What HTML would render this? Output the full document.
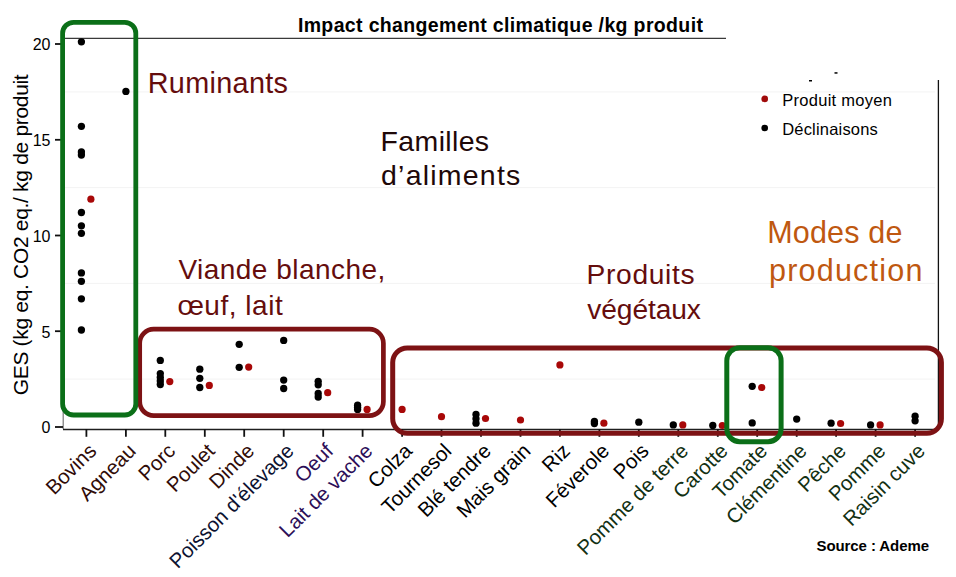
<!DOCTYPE html>
<html><head><meta charset="utf-8"><style>
html,body{margin:0;padding:0;background:#fff;width:956px;height:577px;overflow:hidden}
svg{display:block;font-family:"Liberation Sans",sans-serif}
</style></head><body>
<svg width="956" height="577" viewBox="0 0 956 577">
<rect x="0" y="0" width="956" height="577" fill="#fff"/>
<line x1="64" x2="935" y1="379.1" y2="379.1" stroke="#f3f3f3" stroke-width="1"/>
<line x1="64" x2="935" y1="283.4" y2="283.4" stroke="#f3f3f3" stroke-width="1"/>
<line x1="64" x2="935" y1="187.6" y2="187.6" stroke="#f3f3f3" stroke-width="1"/>
<line x1="64" x2="935" y1="91.9" y2="91.9" stroke="#f3f3f3" stroke-width="1"/>
<line x1="63" x2="726" y1="38.4" y2="38.4" stroke="#3a3a3a" stroke-width="1.2"/>
<line x1="938.4" x2="938.4" y1="80" y2="429" stroke="#111" stroke-width="1.3"/>
<line x1="63.2" x2="63.2" y1="38" y2="429" stroke="#777" stroke-width="1.2"/>
<line x1="63" x2="936" y1="429.5" y2="429.5" stroke="#1e1e1e" stroke-width="1.6"/>
<line x1="55" x2="63" y1="427.0" y2="427.0" stroke="#111" stroke-width="1.8"/>
<text x="50.5" y="433.3" text-anchor="end" font-size="16" fill="#000">0</text>
<line x1="55" x2="63" y1="331.2" y2="331.2" stroke="#111" stroke-width="1.8"/>
<text x="50.5" y="337.6" text-anchor="end" font-size="16" fill="#000">5</text>
<line x1="55" x2="63" y1="235.5" y2="235.5" stroke="#111" stroke-width="1.8"/>
<text x="50.5" y="241.8" text-anchor="end" font-size="16" fill="#000">10</text>
<line x1="55" x2="63" y1="139.8" y2="139.8" stroke="#111" stroke-width="1.8"/>
<text x="50.5" y="146.1" text-anchor="end" font-size="16" fill="#000">15</text>
<line x1="55" x2="63" y1="44.0" y2="44.0" stroke="#111" stroke-width="1.8"/>
<text x="50.5" y="50.3" text-anchor="end" font-size="16" fill="#000">20</text>
<line x1="86.4" x2="86.4" y1="429" y2="436.8" stroke="#111" stroke-width="1.8"/>
<line x1="125.9" x2="125.9" y1="429" y2="436.8" stroke="#111" stroke-width="1.8"/>
<line x1="165.3" x2="165.3" y1="429" y2="436.8" stroke="#111" stroke-width="1.8"/>
<line x1="204.8" x2="204.8" y1="429" y2="436.8" stroke="#111" stroke-width="1.8"/>
<line x1="244.2" x2="244.2" y1="429" y2="436.8" stroke="#111" stroke-width="1.8"/>
<line x1="283.7" x2="283.7" y1="429" y2="436.8" stroke="#111" stroke-width="1.8"/>
<line x1="323.2" x2="323.2" y1="429" y2="436.8" stroke="#111" stroke-width="1.8"/>
<line x1="362.6" x2="362.6" y1="429" y2="436.8" stroke="#111" stroke-width="1.8"/>
<line x1="402.1" x2="402.1" y1="429" y2="436.8" stroke="#111" stroke-width="1.8"/>
<line x1="441.5" x2="441.5" y1="429" y2="436.8" stroke="#111" stroke-width="1.8"/>
<line x1="481.0" x2="481.0" y1="429" y2="436.8" stroke="#111" stroke-width="1.8"/>
<line x1="520.5" x2="520.5" y1="429" y2="436.8" stroke="#111" stroke-width="1.8"/>
<line x1="559.9" x2="559.9" y1="429" y2="436.8" stroke="#111" stroke-width="1.8"/>
<line x1="599.4" x2="599.4" y1="429" y2="436.8" stroke="#111" stroke-width="1.8"/>
<line x1="638.8" x2="638.8" y1="429" y2="436.8" stroke="#111" stroke-width="1.8"/>
<line x1="678.3" x2="678.3" y1="429" y2="436.8" stroke="#111" stroke-width="1.8"/>
<line x1="717.8" x2="717.8" y1="429" y2="436.8" stroke="#111" stroke-width="1.8"/>
<line x1="757.2" x2="757.2" y1="429" y2="436.8" stroke="#111" stroke-width="1.8"/>
<line x1="796.7" x2="796.7" y1="429" y2="436.8" stroke="#111" stroke-width="1.8"/>
<line x1="836.1" x2="836.1" y1="429" y2="436.8" stroke="#111" stroke-width="1.8"/>
<line x1="875.6" x2="875.6" y1="429" y2="436.8" stroke="#111" stroke-width="1.8"/>
<line x1="915.1" x2="915.1" y1="429" y2="436.8" stroke="#111" stroke-width="1.8"/>
<circle cx="81.4" cy="41.8" r="3.65" fill="#000"/>
<circle cx="81.4" cy="126.3" r="3.65" fill="#000"/>
<circle cx="81.4" cy="152.0" r="3.65" fill="#000"/>
<circle cx="81.4" cy="155.0" r="3.65" fill="#000"/>
<circle cx="81.4" cy="212.5" r="3.65" fill="#000"/>
<circle cx="81.4" cy="225.8" r="3.65" fill="#000"/>
<circle cx="81.4" cy="233.3" r="3.65" fill="#000"/>
<circle cx="81.4" cy="272.9" r="3.65" fill="#000"/>
<circle cx="81.4" cy="281.3" r="3.65" fill="#000"/>
<circle cx="81.4" cy="298.8" r="3.65" fill="#000"/>
<circle cx="81.4" cy="330.0" r="3.65" fill="#000"/>
<circle cx="125.9" cy="91.4" r="3.65" fill="#000"/>
<circle cx="160.3" cy="360.4" r="3.65" fill="#000"/>
<circle cx="160.3" cy="373.6" r="3.65" fill="#000"/>
<circle cx="160.3" cy="377.5" r="3.65" fill="#000"/>
<circle cx="160.3" cy="381.0" r="3.65" fill="#000"/>
<circle cx="160.3" cy="384.5" r="3.65" fill="#000"/>
<circle cx="199.8" cy="369.2" r="3.65" fill="#000"/>
<circle cx="199.8" cy="378.3" r="3.65" fill="#000"/>
<circle cx="199.8" cy="387.5" r="3.65" fill="#000"/>
<circle cx="239.2" cy="344.3" r="3.65" fill="#000"/>
<circle cx="239.2" cy="367.3" r="3.65" fill="#000"/>
<circle cx="283.7" cy="340.4" r="3.65" fill="#000"/>
<circle cx="283.7" cy="380.1" r="3.65" fill="#000"/>
<circle cx="283.7" cy="388.5" r="3.65" fill="#000"/>
<circle cx="318.2" cy="381.3" r="3.65" fill="#000"/>
<circle cx="318.2" cy="384.8" r="3.65" fill="#000"/>
<circle cx="318.2" cy="393.5" r="3.65" fill="#000"/>
<circle cx="318.2" cy="397.0" r="3.65" fill="#000"/>
<circle cx="357.6" cy="405.2" r="3.65" fill="#000"/>
<circle cx="357.6" cy="407.3" r="3.65" fill="#000"/>
<circle cx="357.6" cy="409.4" r="3.65" fill="#000"/>
<circle cx="476.0" cy="414.5" r="3.65" fill="#000"/>
<circle cx="476.0" cy="418.8" r="3.65" fill="#000"/>
<circle cx="476.0" cy="423.2" r="3.65" fill="#000"/>
<circle cx="594.4" cy="421.5" r="3.65" fill="#000"/>
<circle cx="594.4" cy="423.5" r="3.65" fill="#000"/>
<circle cx="638.8" cy="422.2" r="3.65" fill="#000"/>
<circle cx="673.3" cy="424.9" r="3.65" fill="#000"/>
<circle cx="712.8" cy="425.5" r="3.65" fill="#000"/>
<circle cx="752.2" cy="386.3" r="3.65" fill="#000"/>
<circle cx="752.2" cy="422.9" r="3.65" fill="#000"/>
<circle cx="796.7" cy="419.1" r="3.65" fill="#000"/>
<circle cx="831.1" cy="423.2" r="3.65" fill="#000"/>
<circle cx="870.6" cy="424.9" r="3.65" fill="#000"/>
<circle cx="915.1" cy="416.2" r="3.65" fill="#000"/>
<circle cx="915.1" cy="420.8" r="3.65" fill="#000"/>
<circle cx="90.9" cy="199.2" r="3.6" fill="#a80808"/>
<circle cx="169.8" cy="381.6" r="3.6" fill="#a80808"/>
<circle cx="209.3" cy="385.4" r="3.6" fill="#a80808"/>
<circle cx="248.7" cy="367.1" r="3.6" fill="#a80808"/>
<circle cx="327.7" cy="392.7" r="3.6" fill="#a80808"/>
<circle cx="367.1" cy="409.4" r="3.6" fill="#a80808"/>
<circle cx="402.1" cy="409.4" r="3.6" fill="#a80808"/>
<circle cx="441.5" cy="416.7" r="3.6" fill="#a80808"/>
<circle cx="485.5" cy="418.5" r="3.6" fill="#a80808"/>
<circle cx="520.5" cy="420.0" r="3.6" fill="#a80808"/>
<circle cx="559.9" cy="364.9" r="3.6" fill="#a80808"/>
<circle cx="603.9" cy="423.2" r="3.6" fill="#a80808"/>
<circle cx="682.8" cy="424.9" r="3.6" fill="#a80808"/>
<circle cx="722.3" cy="425.5" r="3.6" fill="#a80808"/>
<circle cx="761.7" cy="387.5" r="3.6" fill="#a80808"/>
<circle cx="840.6" cy="423.5" r="3.6" fill="#a80808"/>
<circle cx="880.1" cy="424.9" r="3.6" fill="#a80808"/>
<rect x="139.7" y="329.2" width="243.7" height="86.4" rx="14" ry="14" fill="none" stroke="#7d1214" stroke-width="4.7"/>
<rect x="392.7" y="348.0" width="548.7" height="85.3" rx="14.5" ry="14.5" fill="none" stroke="#7d1214" stroke-width="5"/>
<rect x="62.6" y="22.3" width="73.2" height="392.7" rx="11" ry="11" fill="none" stroke="#0b6f18" stroke-width="4.8"/>
<rect x="726.8" y="347.7" width="54.3" height="94" rx="13" ry="13" fill="none" stroke="#0b6f18" stroke-width="5"/>
<text x="297.9" y="32.0" font-size="19.5" font-weight="bold" fill="#000" textLength="405" lengthAdjust="spacing">Impact changement climatique /kg produit</text>
<text transform="translate(28.2,395.3) rotate(-90)" x="0" y="0" font-size="21" fill="#000" textLength="321" lengthAdjust="spacing">GES (kg eq. CO2 eq./ kg de produit</text>
<text x="147.7" y="92.6" font-size="28.8" fill="#650d0d" textLength="140.3" lengthAdjust="spacing">Ruminants</text>
<text x="380.6" y="151" font-size="28.5" fill="#1e0808" textLength="108.5" lengthAdjust="spacing">Familles</text>
<text x="381" y="185" font-size="28.5" fill="#1e0808" textLength="139.3" lengthAdjust="spacing">d’aliments</text>
<text x="178.4" y="279.3" font-size="28" fill="#650d0d" textLength="206.9" lengthAdjust="spacing">Viande blanche,</text>
<text x="177.4" y="314.5" font-size="28" fill="#650d0d" textLength="105.3" lengthAdjust="spacing">œuf, lait</text>
<text x="586.6" y="283.6" font-size="28.2" fill="#650d0d" textLength="107.9" lengthAdjust="spacing">Produits</text>
<text x="587.3" y="318.6" font-size="28.2" fill="#650d0d" textLength="113.6" lengthAdjust="spacing">végétaux</text>
<text x="767.2" y="242.9" font-size="30.5" fill="#bf5810" textLength="135.2" lengthAdjust="spacing">Modes de</text>
<text x="769" y="281.1" font-size="30.5" fill="#bf5810" textLength="153.4" lengthAdjust="spacing">production</text>
<circle cx="764.7" cy="98.9" r="3.3" fill="#a00a0a"/>
<circle cx="764.7" cy="128" r="3.3" fill="#000"/>
<text x="782.2" y="105.9" font-size="16.5" fill="#000" textLength="109.8" lengthAdjust="spacing">Produit moyen</text>
<text x="782.2" y="134.5" font-size="16.5" fill="#000" textLength="95.6" lengthAdjust="spacing">Déclinaisons</text>
<rect x="809" y="80" width="3" height="1.5" fill="#000"/>
<rect x="834.5" y="72.2" width="3" height="1.5" fill="#000"/>
<text x="816.5" y="551.2" font-size="15" font-weight="bold" fill="#000" textLength="112.5" lengthAdjust="spacing">Source : Ademe</text>
<text transform="translate(86.9,441.5) rotate(-45)" x="0" y="0" text-anchor="end" dominant-baseline="hanging" font-size="20.5" fill="#300c08">Bovins</text>
<text transform="translate(126.4,441.5) rotate(-45)" x="0" y="0" text-anchor="end" dominant-baseline="hanging" font-size="20.5" fill="#300c08">Agneau</text>
<text transform="translate(165.8,441.5) rotate(-45)" x="0" y="0" text-anchor="end" dominant-baseline="hanging" font-size="20.5" fill="#300c08">Porc</text>
<text transform="translate(205.3,441.5) rotate(-45)" x="0" y="0" text-anchor="end" dominant-baseline="hanging" font-size="20.5" fill="#300c08">Poulet</text>
<text transform="translate(244.7,441.5) rotate(-45)" x="0" y="0" text-anchor="end" dominant-baseline="hanging" font-size="20.5" fill="#300c08">Dinde</text>
<text transform="translate(284.2,441.5) rotate(-45)" x="0" y="0" text-anchor="end" dominant-baseline="hanging" font-size="20.5" fill="#0c1230">Poisson d'élevage</text>
<text transform="translate(323.7,441.5) rotate(-45)" x="0" y="0" text-anchor="end" dominant-baseline="hanging" font-size="20.5" fill="#2c0e58">Oeuf</text>
<text transform="translate(363.1,441.5) rotate(-45)" x="0" y="0" text-anchor="end" dominant-baseline="hanging" font-size="20.5" fill="#2c0e58">Lait de vache</text>
<text transform="translate(402.6,441.5) rotate(-45)" x="0" y="0" text-anchor="end" dominant-baseline="hanging" font-size="20.5" fill="#000000">Colza</text>
<text transform="translate(442.0,441.5) rotate(-45)" x="0" y="0" text-anchor="end" dominant-baseline="hanging" font-size="20.5" fill="#000000">Tournesol</text>
<text transform="translate(481.5,441.5) rotate(-45)" x="0" y="0" text-anchor="end" dominant-baseline="hanging" font-size="20.5" fill="#000000">Blé tendre</text>
<text transform="translate(521.0,441.5) rotate(-45)" x="0" y="0" text-anchor="end" dominant-baseline="hanging" font-size="20.5" fill="#000000">Mais grain</text>
<text transform="translate(560.4,441.5) rotate(-45)" x="0" y="0" text-anchor="end" dominant-baseline="hanging" font-size="20.5" fill="#000000">Riz</text>
<text transform="translate(599.9,441.5) rotate(-45)" x="0" y="0" text-anchor="end" dominant-baseline="hanging" font-size="20.5" fill="#000000">Féverole</text>
<text transform="translate(639.3,441.5) rotate(-45)" x="0" y="0" text-anchor="end" dominant-baseline="hanging" font-size="20.5" fill="#000000">Pois</text>
<text transform="translate(678.8,441.5) rotate(-45)" x="0" y="0" text-anchor="end" dominant-baseline="hanging" font-size="20.5" fill="#123012">Pomme de terre</text>
<text transform="translate(718.3,441.5) rotate(-45)" x="0" y="0" text-anchor="end" dominant-baseline="hanging" font-size="20.5" fill="#123012">Carotte</text>
<text transform="translate(757.7,441.5) rotate(-45)" x="0" y="0" text-anchor="end" dominant-baseline="hanging" font-size="20.5" fill="#123012">Tomate</text>
<text transform="translate(797.2,441.5) rotate(-45)" x="0" y="0" text-anchor="end" dominant-baseline="hanging" font-size="20.5" fill="#123012">Clémentine</text>
<text transform="translate(836.6,441.5) rotate(-45)" x="0" y="0" text-anchor="end" dominant-baseline="hanging" font-size="20.5" fill="#123012">Pêche</text>
<text transform="translate(876.1,441.5) rotate(-45)" x="0" y="0" text-anchor="end" dominant-baseline="hanging" font-size="20.5" fill="#123012">Pomme</text>
<text transform="translate(915.6,441.5) rotate(-45)" x="0" y="0" text-anchor="end" dominant-baseline="hanging" font-size="20.5" fill="#123012">Raisin cuve</text>
</svg>
</body></html>
